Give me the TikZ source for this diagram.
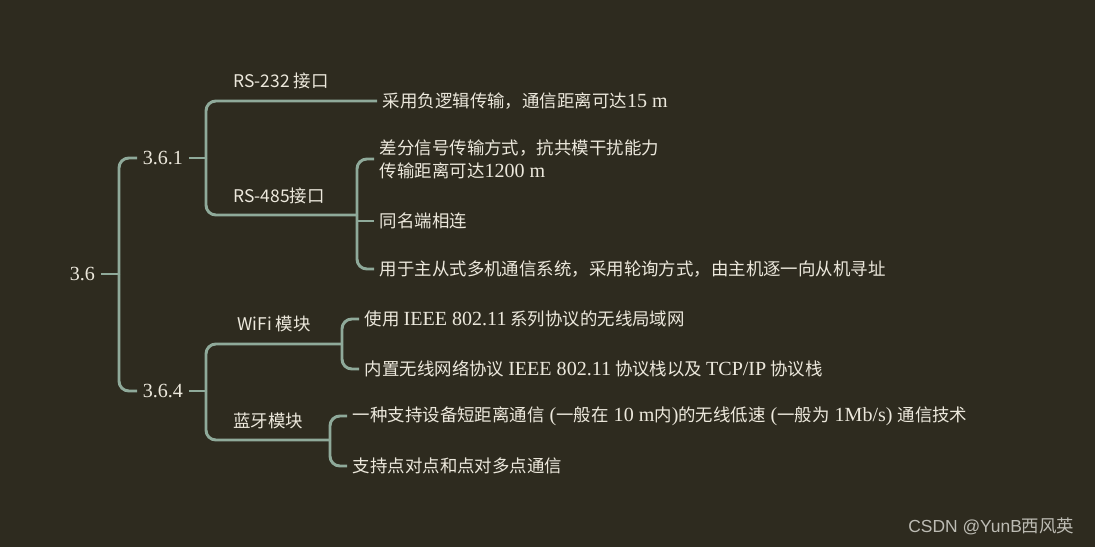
\documentclass[tikz,border=0pt]{standalone}
\usepackage{fontspec}
\setmainfont{Noto Sans CJK SC}
\newfontfamily\lat[Scale=1.15]{Liberation Serif}
\newfontfamily\wmfont{Liberation Sans}
\definecolor{bgdark}{HTML}{2E2B1F}
\definecolor{branch}{HTML}{8FAA9A}
\definecolor{ink}{HTML}{ECE8DC}
\definecolor{wmgray}{HTML}{BDBCB4}
\newcommand\mapsize{\fontsize{12.4}{16.4}\selectfont}
\tikzset{
  link/.style={draw=branch,line width=2.1pt,rounded corners=7pt},
  topic/.style={anchor=west,inner xsep=4pt,inner ysep=1pt,text=ink,font=\mapsize},
  tag/.style={anchor=west,inner sep=0pt,text=ink,font=\mapsize}
}

\begin{document}
\begin{tikzpicture}[x=0.025cm,y=-0.025cm]
  \fill[bgdark] (0,0) rectangle (1095,547);
  \node[topic] (s36) at (64,274) {\lat 3.6};
  \node[topic] (s361) at (137,158) {\lat 3.6.1};
  \node[topic] (s364) at (137,391) {\lat 3.6.4};
  \coordinate (j36) at (119,274);
  \coordinate (j361) at (206,158);
  \coordinate (j364) at (206,391);
  \coordinate (j485) at (357,215);
  \coordinate (jwifi) at (342,344);
  \coordinate (jbt) at (330,440);
  \node[tag] (t232) at (233,81) {RS-232 接口};
  \node[tag] (t485) at (233,196) {RS-485接口};
  \node[tag] (twifi) at (237,324) {WiFi 模块};
  \node[tag] (tbt) at (233,421) {蓝牙模块};
  \node[topic] (rs232a) at (377,101) {采用负逻辑传输，通信距离可达{\lat 15 m}};
  \node[topic,align=left] (rs485a) at (374,159) {差分信号传输方式，抗共模干扰能力\\传输距离可达{\lat 1200 m}};
  \node[topic] (rs485b) at (374,221) {同名端相连};
  \node[topic] (rs485c) at (374,269) {用于主从式多机通信系统，采用轮询方式，由主机逐一向从机寻址};
  \node[topic] (wifia) at (359,319) {使用 {\lat IEEE 802.11} 系列协议的无线局域网};
  \node[topic] (wifib) at (359,369) {内置无线网络协议 {\lat IEEE 802.11} 协议栈以及 {\lat TCP/IP} 协议栈};
  \node[topic] (bta) at (347,416) {一种支持设备短距离通信{\lat{} (}一般在{\lat{} 10 m}内{\lat )}的无线低速{\lat{} (}一般为{\lat{} 1Mb/s) }通信技术};
  \node[topic] (btb) at (347,466) {支持点对点和点对多点通信};
  \draw[link] (s36.east) -- (j36);
  \draw[link] (j36) |- (s361.west);
  \draw[link] (j36) |- (s364.west);
  \draw[link] (s361.east) -- (j361);
  \draw[link] (j361) |- (rs232a.west);
  \draw[link] (j361) |- (j485);
  \draw[link] (j485) |- (rs485a.west);
  \draw[link] (j485 |- rs485b.west) -- (rs485b.west);
  \draw[link] (j485) |- (rs485c.west);
  \draw[link] (s364.east) -- (j364);
  \draw[link] (j364) |- (jwifi);
  \draw[link] (j364) |- (jbt);
  \draw[link] (jwifi) |- (wifia.west);
  \draw[link] (jwifi) |- (wifib.west);
  \draw[link] (jbt) |- (bta.west);
  \draw[link] (jbt) |- (btb.west);
  \node[anchor=west,inner sep=0pt,text=wmgray,font=\mapsize] (wm) at (908,526) {{\wmfont CSDN @YunB}西风英};
\end{tikzpicture}
\end{document}
